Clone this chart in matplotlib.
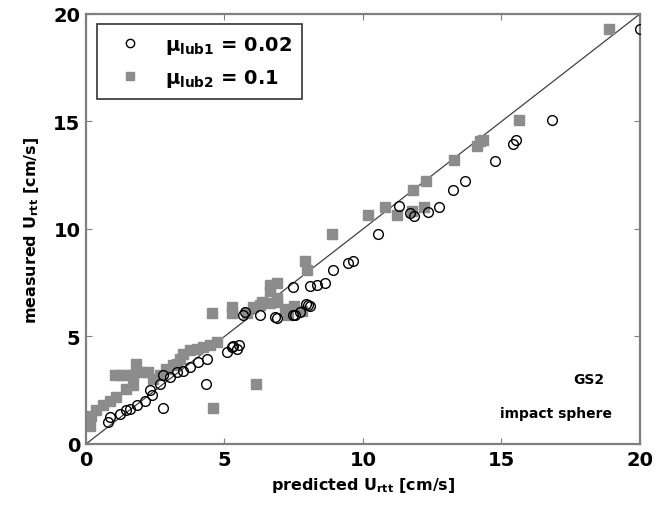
import matplotlib
matplotlib.use('Agg')
import matplotlib.pyplot as plt
import numpy as np

# predicted vs measured velocity, mu_lub1 = 0.02 (open circles)
pred_lub1 = [0.80, 0.87, 1.23, 1.46, 1.59, 1.85, 2.12, 2.37, 2.31, 2.66, 2.79, 2.79,
             3.02, 3.27, 3.51, 3.75, 4.06, 4.36, 4.33, 5.08, 5.32, 5.44, 5.53, 5.26,
             5.74, 5.67, 6.28, 6.82, 6.88, 7.48, 7.55, 7.73, 7.96, 8.09, 8.03, 7.48,
             8.09, 8.33, 8.63, 8.93, 9.47, 9.65, 10.55, 11.31, 11.70, 11.84, 12.36,
             12.76, 13.26, 13.68, 14.77, 15.43, 15.52, 16.81, 20.0]
meas_lub1 = [1.01, 1.25, 1.40, 1.56, 1.64, 1.82, 2.02, 2.26, 2.49, 2.80, 1.67, 3.19,
             3.11, 3.35, 3.41, 3.58, 3.80, 3.95, 2.80, 4.27, 4.56, 4.44, 4.59, 4.50,
             6.15, 6.00, 6.00, 5.90, 5.84, 6.00, 6.00, 6.15, 6.50, 6.40, 6.46, 7.32,
             7.33, 7.40, 7.50, 8.10, 8.41, 8.52, 9.77, 11.06, 10.75, 10.59, 10.79,
             11.01, 11.79, 12.23, 13.16, 13.94, 14.13, 15.06, 19.3]

# mu_lub2 = 0.1 (grey squares)
pred_lub2 = [0.13, 0.07, 0.19, 0.37, 0.61, 0.86, 1.09, 1.46, 1.70, 1.04, 1.23, 1.46,
             1.70, 1.82, 2.00, 2.24, 2.42, 2.66, 2.90, 3.14, 3.38, 3.27, 3.51, 3.75,
             4.00, 4.23, 4.48, 4.72, 4.54, 5.26, 5.26, 4.60, 6.14, 5.80, 6.04, 6.28,
             6.34, 6.64, 6.64, 6.88, 6.90, 7.20, 7.50, 7.30, 7.80, 6.64, 6.88, 7.90,
             7.97, 8.89, 10.19, 10.79, 11.22, 11.76, 12.20, 11.82, 12.27, 13.29,
             14.13, 14.22, 14.34, 15.63, 18.9]
meas_lub2 = [0.85, 1.09, 1.32, 1.56, 1.79, 2.02, 2.18, 2.57, 2.72, 3.19, 3.19, 3.19,
             3.19, 3.72, 3.33, 3.33, 3.04, 3.19, 3.50, 3.66, 3.97, 3.74, 4.20, 4.36,
             4.44, 4.52, 4.60, 4.75, 6.07, 6.35, 6.07, 1.67, 2.80, 6.10, 6.37, 6.46,
             6.60, 6.54, 7.40, 7.48, 6.60, 6.30, 6.40, 6.00, 6.20, 7.10, 6.77, 8.49,
             8.10, 9.78, 10.67, 11.01, 10.64, 10.83, 11.01, 11.79, 12.23, 13.19,
             13.86, 14.10, 14.13, 15.06, 19.3]

ticks = [0, 5, 10, 15, 20]
spine_color = '#7f7f7f'

fig = plt.figure(figsize=(6.64, 5.06), dpi=100)
ax = fig.add_axes([0.1295, 0.1206, 0.8343, 0.8498])

# 1:1 reference line
ax.plot([0, 20], [0, 20], color='#404040', linewidth=0.9, zorder=1)

sq, = ax.plot(pred_lub2, meas_lub2, linestyle='none', marker='s', markersize=7,
              markerfacecolor='#8c8c8c', markeredgecolor='#8c8c8c', zorder=2)
ci, = ax.plot(pred_lub1, meas_lub1, linestyle='none', marker='o', markersize=7,
              markerfacecolor='none', markeredgecolor='black', markeredgewidth=1.0,
              zorder=3)

ax.set_xlim(0, 20)
ax.set_ylim(0, 20)
ax.set_xticks(ticks)
ax.set_yticks(ticks)
ax.tick_params(direction='in', length=4, color=spine_color, top=True, right=True,
               labelsize=14, pad=4)
for lab in ax.get_xticklabels() + ax.get_yticklabels():
    lab.set_fontweight('bold')
for s in ax.spines.values():
    s.set_color(spine_color)
    s.set_linewidth(1.6)

ax.set_xlabel(r'predicted U$_{\mathbf{rtt}}$ [cm/s]', fontsize=11.5, fontweight='bold',
              labelpad=5)
ax.set_ylabel(r'measured U$_{\mathbf{rtt}}$ [cm/s]', fontsize=11.5, fontweight='bold',
              labelpad=9)

ax.text(18.7, 3.0, 'GS2', ha='right', va='center', fontsize=10, fontweight='bold')
ax.text(19.0, 1.45, 'impact sphere', ha='right', va='center', fontsize=10,
        fontweight='bold')

leg = ax.legend([ci, sq], [r'$\mathbf{\mu_{lub1}}$ = 0.02', r'$\mathbf{\mu_{lub2}}$ = 0.1'],
                loc='upper left', bbox_to_anchor=(0.02, 0.977), borderaxespad=0,
                fancybox=False, framealpha=1, edgecolor='#333333',
                prop={'size': 14, 'weight': 'bold'}, handletextpad=0.6,
                labelspacing=0.6, borderpad=0.5, handlelength=2.4)
leg.get_frame().set_linewidth(1.2)
for h in leg.legend_handles:
    h.set_markersize(6)

fig.savefig('out.png', dpi=100)
